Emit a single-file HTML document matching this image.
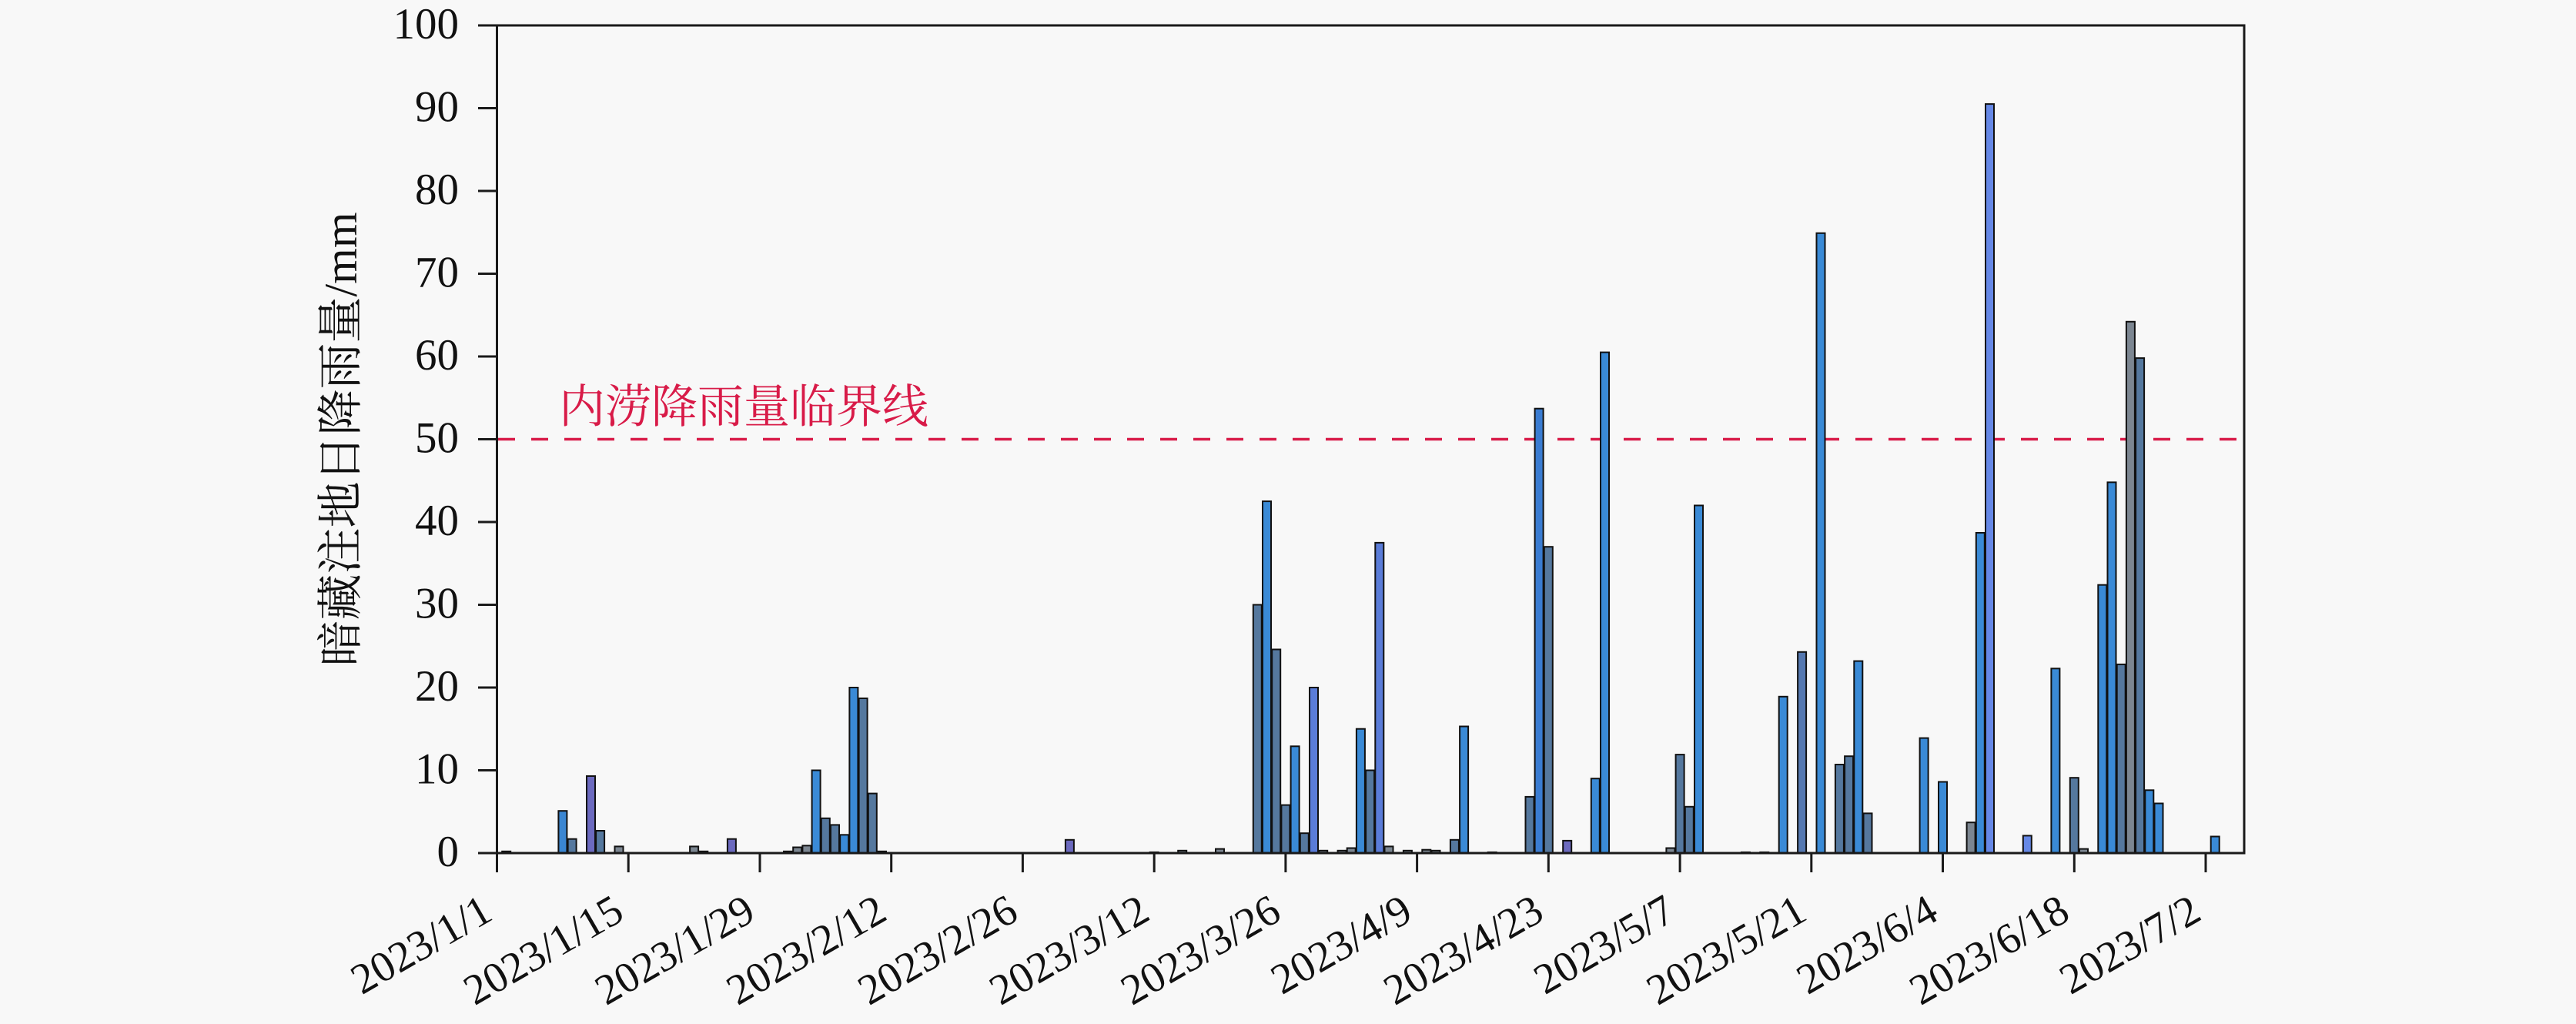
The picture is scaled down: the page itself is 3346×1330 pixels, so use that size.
<!DOCTYPE html>
<html>
<head>
<meta charset="utf-8">
<style>
html,body{margin:0;padding:0;background:#f8f8f8;}
svg{display:block;}
text{font-family:"Liberation Serif","Noto Serif CJK SC",serif;}
</style>
</head>
<body>
<svg width="3346" height="1330" viewBox="0 0 3346 1330" xmlns="http://www.w3.org/2000/svg">
<rect x="0" y="0" width="3346" height="1330" fill="#f8f8f8"/>

<!-- threshold line -->
<line x1="647" y1="570.5" x2="2915" y2="570.5" stroke="#d81b48" stroke-width="3.5" stroke-dasharray="22 21"/>

<!-- bars -->
<g transform="translate(0,1108) scale(1,-1)" stroke="#111" stroke-width="2">
<rect x="652.2" y="0" width="11" height="2.2" fill="#55789e"/>
<rect x="725.4" y="0" width="11" height="54.8" fill="#3a86d2"/>
<rect x="737.6" y="0" width="11" height="18.3" fill="#55789e"/>
<rect x="762.0" y="0" width="11" height="100.0" fill="#6c6abf"/>
<rect x="774.1" y="0" width="11" height="29.0" fill="#55789e"/>
<rect x="798.5" y="0" width="11" height="8.6" fill="#7c8691"/>
<rect x="896.1" y="0" width="11" height="8.6" fill="#7c8691"/>
<rect x="908.3" y="0" width="11" height="2.2" fill="#7c8691"/>
<rect x="944.9" y="0" width="11" height="18.3" fill="#6c6abf"/>
<rect x="1018.0" y="0" width="11" height="2.2" fill="#7c8691"/>
<rect x="1030.2" y="0" width="11" height="7.5" fill="#7c8691"/>
<rect x="1042.4" y="0" width="11" height="9.7" fill="#7c8691"/>
<rect x="1054.6" y="0" width="11" height="107.5" fill="#3a8ad6"/>
<rect x="1066.8" y="0" width="11" height="45.2" fill="#55789e"/>
<rect x="1079.0" y="0" width="11" height="36.6" fill="#55789e"/>
<rect x="1091.2" y="0" width="11" height="23.7" fill="#3a8ad6"/>
<rect x="1103.4" y="0" width="11" height="215" fill="#3a8ad6"/>
<rect x="1115.6" y="0" width="11" height="201" fill="#55789e"/>
<rect x="1127.8" y="0" width="11" height="77.4" fill="#55789e"/>
<rect x="1140.0" y="0" width="11" height="2.2" fill="#7c8691"/>
<rect x="1383.9" y="0" width="11" height="17.2" fill="#6c6abf"/>
<rect x="1493.7" y="0" width="11" height="1.1" fill="#7c8691"/>
<rect x="1530.2" y="0" width="11" height="3.2" fill="#7c8691"/>
<rect x="1579.0" y="0" width="11" height="5.4" fill="#7c8691"/>
<rect x="1627.8" y="0" width="11" height="322.5" fill="#55789e"/>
<rect x="1640.0" y="0" width="11" height="456.9" fill="#3a8ad6"/>
<rect x="1652.2" y="0" width="11" height="264.5" fill="#55789e"/>
<rect x="1664.4" y="0" width="11" height="62.4" fill="#55789e"/>
<rect x="1676.6" y="0" width="11" height="138.7" fill="#3a8ad6"/>
<rect x="1688.8" y="0" width="11" height="25.8" fill="#55789e"/>
<rect x="1701.0" y="0" width="11" height="215" fill="#5a7cd8"/>
<rect x="1713.2" y="0" width="11" height="3.2" fill="#7c8691"/>
<rect x="1737.6" y="0" width="11" height="3.2" fill="#7c8691"/>
<rect x="1749.7" y="0" width="11" height="6.5" fill="#7c8691"/>
<rect x="1761.9" y="0" width="11" height="161.3" fill="#3a8ad6"/>
<rect x="1774.1" y="0" width="11" height="107.5" fill="#55789e"/>
<rect x="1786.3" y="0" width="11" height="403.1" fill="#5a7cd8"/>
<rect x="1798.5" y="0" width="11" height="8.6" fill="#7c8691"/>
<rect x="1822.9" y="0" width="11" height="3.2" fill="#7c8691"/>
<rect x="1847.3" y="0" width="11" height="4.3" fill="#7c8691"/>
<rect x="1859.5" y="0" width="11" height="3.2" fill="#7c8691"/>
<rect x="1883.9" y="0" width="11" height="17.2" fill="#55789e"/>
<rect x="1896.1" y="0" width="11" height="164.5" fill="#3a8ad6"/>
<rect x="1932.7" y="0" width="11" height="1.1" fill="#7c8691"/>
<rect x="1981.5" y="0" width="11" height="73.1" fill="#55789e"/>
<rect x="1993.6" y="0" width="11" height="577.3" fill="#3a7cd2"/>
<rect x="2005.8" y="0" width="11" height="397.8" fill="#55789e"/>
<rect x="2030.2" y="0" width="11" height="16.1" fill="#6c6abf"/>
<rect x="2066.8" y="0" width="11" height="96.8" fill="#3a8ad6"/>
<rect x="2079.0" y="0" width="11" height="650.4" fill="#3a8ad6"/>
<rect x="2164.4" y="0" width="11" height="6.5" fill="#7c8691"/>
<rect x="2176.6" y="0" width="11" height="127.9" fill="#55789e"/>
<rect x="2188.8" y="0" width="11" height="60.2" fill="#55789e"/>
<rect x="2201.0" y="0" width="11" height="451.5" fill="#3a8ad6"/>
<rect x="2261.9" y="0" width="11" height="1.1" fill="#7c8691"/>
<rect x="2286.3" y="0" width="11" height="1.1" fill="#7c8691"/>
<rect x="2310.7" y="0" width="11" height="203.2" fill="#3a8ad6"/>
<rect x="2335.1" y="0" width="11" height="261.2" fill="#5578b0"/>
<rect x="2359.5" y="0" width="11" height="805.2" fill="#3a8ad6"/>
<rect x="2383.9" y="0" width="11" height="115.0" fill="#55789e"/>
<rect x="2396.1" y="0" width="11" height="125.8" fill="#55789e"/>
<rect x="2408.3" y="0" width="11" height="249.4" fill="#3a8ad6"/>
<rect x="2420.5" y="0" width="11" height="51.6" fill="#55789e"/>
<rect x="2493.6" y="0" width="11" height="149.4" fill="#3a8ad6"/>
<rect x="2518.0" y="0" width="11" height="92.5" fill="#3a8ad6"/>
<rect x="2554.6" y="0" width="11" height="39.8" fill="#7c8691"/>
<rect x="2566.8" y="0" width="11" height="416.0" fill="#3a8ad6"/>
<rect x="2579.0" y="0" width="11" height="972.9" fill="#6688e6"/>
<rect x="2627.8" y="0" width="11" height="22.6" fill="#6688e6"/>
<rect x="2664.4" y="0" width="11" height="239.7" fill="#3a8ad6"/>
<rect x="2688.8" y="0" width="11" height="97.8" fill="#55789e"/>
<rect x="2701.0" y="0" width="11" height="5.4" fill="#7c8691"/>
<rect x="2725.3" y="0" width="11" height="348.3" fill="#3a8ad6"/>
<rect x="2737.5" y="0" width="11" height="481.6" fill="#3a8ad6"/>
<rect x="2749.7" y="0" width="11" height="245.1" fill="#55789e"/>
<rect x="2761.9" y="0" width="11" height="690.2" fill="#7c8691"/>
<rect x="2774.1" y="0" width="11" height="642.9" fill="#55789e"/>
<rect x="2786.3" y="0" width="11" height="81.7" fill="#3a8ad6"/>
<rect x="2798.5" y="0" width="11" height="64.5" fill="#3a8ad6"/>
<rect x="2871.7" y="0" width="11" height="21.5" fill="#3a8ad6"/>
</g>

<!-- axes frame -->
<rect x="645.5" y="33" width="2269.5" height="1075" fill="none" stroke="#1a1a1a" stroke-width="3"/>

<!-- y ticks -->
<g stroke="#1a1a1a" stroke-width="3">
<line x1="621" y1="1108" x2="645.5" y2="1108"/>
<line x1="621" y1="1000.5" x2="645.5" y2="1000.5"/>
<line x1="621" y1="893" x2="645.5" y2="893"/>
<line x1="621" y1="785.5" x2="645.5" y2="785.5"/>
<line x1="621" y1="678" x2="645.5" y2="678"/>
<line x1="621" y1="570.5" x2="645.5" y2="570.5"/>
<line x1="621" y1="463" x2="645.5" y2="463"/>
<line x1="621" y1="355.5" x2="645.5" y2="355.5"/>
<line x1="621" y1="248" x2="645.5" y2="248"/>
<line x1="621" y1="140.5" x2="645.5" y2="140.5"/>
<line x1="621" y1="33" x2="645.5" y2="33"/>
</g>
<g font-size="57" fill="#111" text-anchor="end">
<text x="596" y="1125">0</text>
<text x="596" y="1017.5">10</text>
<text x="596" y="910">20</text>
<text x="596" y="802.5">30</text>
<text x="596" y="695">40</text>
<text x="596" y="587.5">50</text>
<text x="596" y="480">60</text>
<text x="596" y="372.5">70</text>
<text x="596" y="265">80</text>
<text x="596" y="157.5">90</text>
<text x="596" y="50">100</text>
</g>

<!-- x ticks -->
<g stroke="#1a1a1a" stroke-width="3">
<line x1="645.5" y1="1108" x2="645.5" y2="1133"/>
<line x1="816.2" y1="1108" x2="816.2" y2="1133"/>
<line x1="987.0" y1="1108" x2="987.0" y2="1133"/>
<line x1="1157.7" y1="1108" x2="1157.7" y2="1133"/>
<line x1="1328.4" y1="1108" x2="1328.4" y2="1133"/>
<line x1="1499.2" y1="1108" x2="1499.2" y2="1133"/>
<line x1="1669.9" y1="1108" x2="1669.9" y2="1133"/>
<line x1="1840.6" y1="1108" x2="1840.6" y2="1133"/>
<line x1="2011.3" y1="1108" x2="2011.3" y2="1133"/>
<line x1="2182.1" y1="1108" x2="2182.1" y2="1133"/>
<line x1="2352.8" y1="1108" x2="2352.8" y2="1133"/>
<line x1="2523.5" y1="1108" x2="2523.5" y2="1133"/>
<line x1="2694.3" y1="1108" x2="2694.3" y2="1133"/>
<line x1="2865.0" y1="1108" x2="2865.0" y2="1133"/>
</g>
<g font-size="56" fill="#111" text-anchor="end">
<text transform="translate(642.5,1193) rotate(-30)">2023/1/1</text>
<text transform="translate(813.2,1193) rotate(-30)">2023/1/15</text>
<text transform="translate(984.0,1193) rotate(-30)">2023/1/29</text>
<text transform="translate(1154.7,1193) rotate(-30)">2023/2/12</text>
<text transform="translate(1325.4,1193) rotate(-30)">2023/2/26</text>
<text transform="translate(1496.2,1193) rotate(-30)">2023/3/12</text>
<text transform="translate(1666.9,1193) rotate(-30)">2023/3/26</text>
<text transform="translate(1837.6,1193) rotate(-30)">2023/4/9</text>
<text transform="translate(2008.3,1193) rotate(-30)">2023/4/23</text>
<text transform="translate(2179.1,1193) rotate(-30)">2023/5/7</text>
<text transform="translate(2349.8,1193) rotate(-30)">2023/5/21</text>
<text transform="translate(2520.5,1193) rotate(-30)">2023/6/4</text>
<text transform="translate(2691.3,1193) rotate(-30)">2023/6/18</text>
<text transform="translate(2862.0,1193) rotate(-30)">2023/7/2</text>
</g>

<!-- y axis label -->
<text transform="translate(463,570.5) rotate(-90)" font-size="60" fill="#111" text-anchor="middle">暗藏注地日降雨量/mm</text>

<!-- annotation -->
<text x="726" y="549" font-size="60" fill="#d81b48">内涝降雨量临界线</text>
</svg>
</body>
</html>
